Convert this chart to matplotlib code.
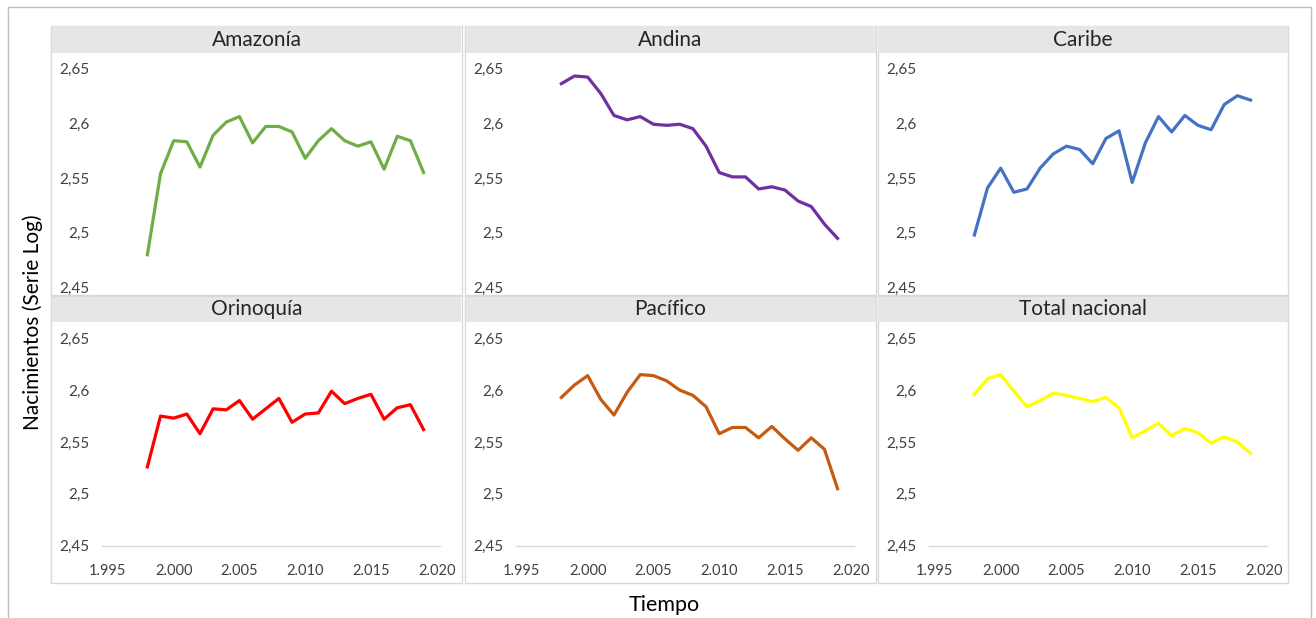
import numpy as np
import matplotlib
matplotlib.use("Agg")
import matplotlib.pyplot as plt
from matplotlib.patches import Rectangle
from matplotlib.ticker import FuncFormatter

plt.rcParams['font.family'] = ['Lato', 'DejaVu Sans']

# Datos leidos da grafica (log10 dos nacementos), 1998-2019
anos = list(range(1998, 2020))

amazonia = [2.480, 2.554, 2.584, 2.583, 2.560, 2.589, 2.601, 2.606, 2.582, 2.597, 2.597,
            2.592, 2.568, 2.584, 2.595, 2.584, 2.579, 2.583, 2.558, 2.588, 2.584, 2.555]
andina = [2.636, 2.643, 2.642, 2.627, 2.607, 2.603, 2.606, 2.599, 2.598, 2.599, 2.595,
          2.579, 2.555, 2.551, 2.551, 2.540, 2.542, 2.539, 2.529, 2.524, 2.508, 2.495]
caribe = [2.498, 2.541, 2.559, 2.537, 2.540, 2.559, 2.572, 2.579, 2.576, 2.563, 2.586,
          2.593, 2.546, 2.582, 2.606, 2.592, 2.607, 2.598, 2.594, 2.617, 2.625, 2.621]
orinoquia = [2.526, 2.575, 2.573, 2.577, 2.558, 2.582, 2.581, 2.590, 2.572, 2.582, 2.592,
             2.569, 2.577, 2.578, 2.599, 2.587, 2.592, 2.596, 2.572, 2.583, 2.586, 2.562]
pacifico = [2.593, 2.605, 2.614, 2.591, 2.576, 2.598, 2.615, 2.614, 2.609, 2.600, 2.595,
            2.584, 2.558, 2.564, 2.564, 2.554, 2.565, 2.553, 2.542, 2.554, 2.543, 2.505]
total = [2.596, 2.611, 2.615, 2.599, 2.584, 2.590, 2.597, 2.595, 2.592, 2.589, 2.593,
         2.583, 2.554, 2.561, 2.568, 2.556, 2.563, 2.559, 2.549, 2.555, 2.550, 2.539]

titulos = ['Amazonía', 'Andina', 'Caribe', 'Orinoquía', 'Pacífico', 'Total nacional']
series = [amazonia, andina, caribe, orinoquia, pacifico, total]
cores = ['#70AD47', '#7030A0', '#4472C4', '#FF0000', '#C55A11', '#FFFF00']

y_ticks = [2.45, 2.5, 2.55, 2.6, 2.65]
x_ticks = [1995, 2000, 2005, 2010, 2015, 2020]

W, H = 1316, 618
fig = plt.figure(figsize=(W / 100, H / 100), dpi=100)


def caixa(x0, y0, x1, y1):
    # pasa de pixeles (orixe arriba-esquerda) a coordenadas de figura
    return [x0 / W, 1 - y1 / H, (x1 - x0) / W, (y1 - y0) / H]


def rect(x0, y0, x1, y1, **kw):
    r = Rectangle((x0 / W, 1 - y1 / H), (x1 - x0) / W, (y1 - y0) / H,
                  transform=fig.transFigure, zorder=-1, **kw)
    fig.add_artist(r)


# marco exterior
rect(8, 7, 1311, 625, fill=False, edgecolor='#BFBFBF', linewidth=1)

cols = [(51, 462), (465, 876), (878, 1288)]
# (cabeceira arriba, cabeceira abaixo, panel abaixo, y de 2.65, y de 2.45)
filas = [(26, 53, 295, 68.3, 287.7), (296, 322, 583, 338.3, 545.7)]

fmt_y = FuncFormatter(lambda v, p: ('%g' % v).replace('.', ','))
fmt_x = FuncFormatter(lambda v, p: '%d.%03d' % (int(v) // 1000, int(v) % 1000))

for i in range(6):
    r, c = divmod(i, 3)
    x0, x1 = cols[c]
    h0, h1, p1, ytop, ybot = filas[r]

    # panel e cabeceira
    rect(x0, h0, x1, p1, facecolor='white', edgecolor='#D9D9D9', linewidth=1)
    rect(x0 + 0.5, h0 + 0.5, x1 - 0.5, h1, facecolor='#E6E6E6', edgecolor='none')
    fig.text((x0 + x1) / 2 / W, 1 - (h0 + h1) / 2 / H, titulos[i],
             ha='center', va='center', fontsize=15, color='#262626')

    ax = fig.add_axes(caixa(x0 + 51, ytop, x0 + 389, ybot))
    ax.patch.set_alpha(0)
    ax.plot(anos, series[i], color=cores[i], linewidth=2.3, clip_on=False,
            solid_joinstyle='round')
    ax.set_xlim(1994.55, 2020.25)
    ax.set_ylim(2.45, 2.65)
    ax.set_yticks(y_ticks)
    ax.yaxis.set_major_formatter(fmt_y)
    ax.tick_params(axis='y', length=0, pad=9, labelsize=11, labelcolor='#404040')
    for s in ['top', 'right', 'left']:
        ax.spines[s].set_visible(False)
    if r == 1:
        ax.set_xticks(x_ticks)
        ax.xaxis.set_major_formatter(fmt_x)
        ax.tick_params(axis='x', length=0, pad=13, labelsize=10.5, labelcolor='#404040')
        ax.spines['bottom'].set_color('#D9D9D9')
        ax.spines['bottom'].set_linewidth(1)
    else:
        ax.set_xticks([])
        ax.spines['bottom'].set_visible(False)

fig.text(33 / W, 1 - 322 / H, 'Nacimientos (Serie Log)', rotation=90,
         ha='center', va='center', fontsize=15, color='#000000')
fig.text(664 / W, 1 - 605 / H, 'Tiempo', ha='center', va='center',
         fontsize=15.5, color='#000000')

fig.savefig('out.png', dpi=100)
